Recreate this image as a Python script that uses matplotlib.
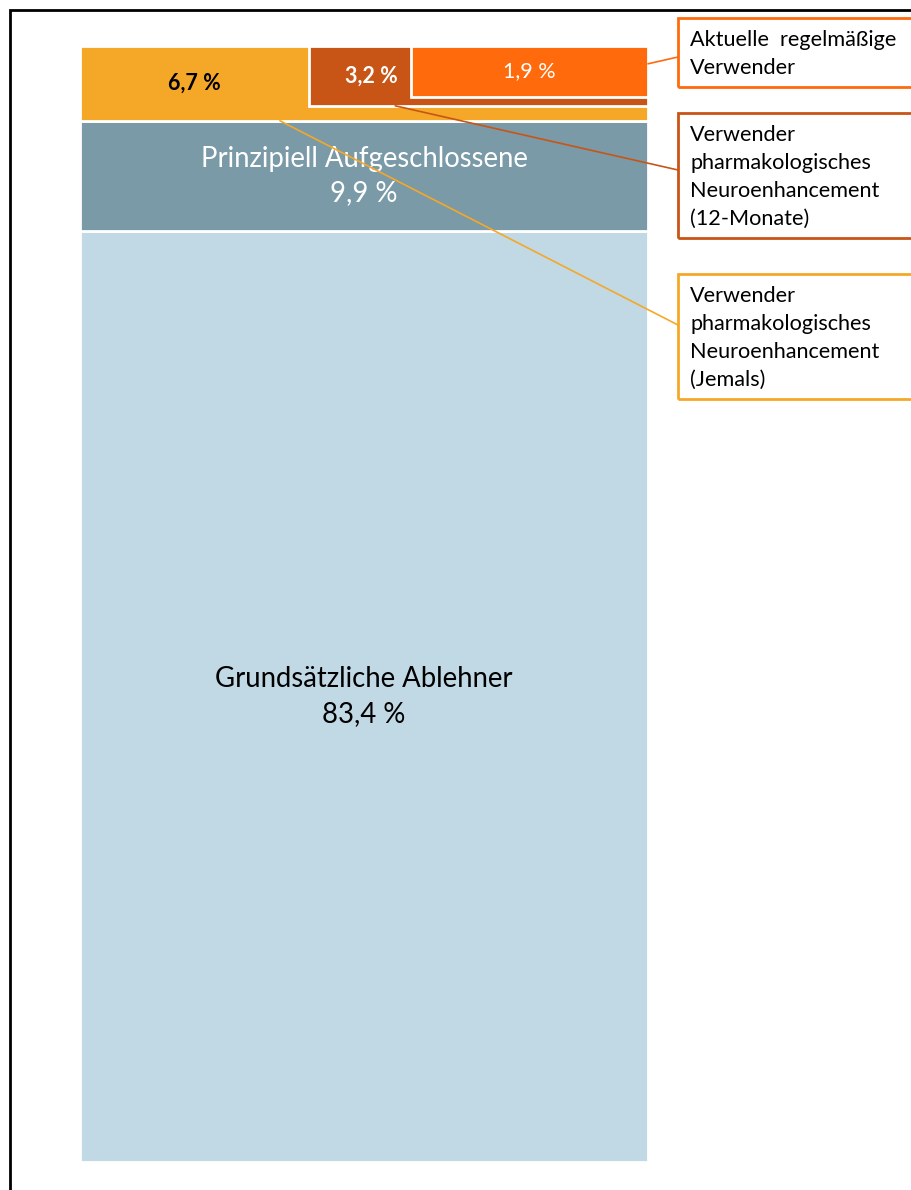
import matplotlib.pyplot as plt
from matplotlib.patches import Rectangle

plt.rcParams['font.family'] = ['Lato', 'DejaVu Sans']

# Hauptsegmente (gestapelt, Summe 100 %)
segmente = ['Grundsätzliche Ablehner', 'Prinzipiell Aufgeschlossene', 'Verwender (Jemals)']
werte = [83.4, 9.9, 6.7]
farben = ['#C0D9E5', '#7A9AA8', '#F5A828']

# verschachtelte Verwendergruppen (Fläche proportional zum Anteil)
verwender = ['12-Monate', 'Aktuelle regelmäßige']
verwender_werte = [3.2, 1.9]
verwender_farben = ['#C85516', '#FF6A0C']
hoehen_anteil = [0.80, 0.68]   # Höhe relativ zum Jemals-Block

labels_text = ['Aktuelle  regelmäßige\nVerwender',
               'Verwender\npharmakologisches\nNeuroenhancement\n(12-Monate)',
               'Verwender\npharmakologisches\nNeuroenhancement\n(Jemals)']

W, H = 911, 1190
fig = plt.figure(figsize=(W / 100, H / 100), dpi=100)

def fy(y):
    # Bildkoordinate (oben=0) -> figure pixels
    return H - y

# Rahmen (rechts und unten abgeschnitten)
fig.patches.append(Rectangle((10, fy(10) - 2000), 2000, 2000, transform=None,
                             fill=False, edgecolor='black', linewidth=2))

ax = fig.add_axes([80 / W, (H - 1162) / H, 568 / W, (1162 - 46) / H])
ax.set_xlim(0, 1)
ax.set_ylim(0, 100)
ax.axis('off')

# gestapelter Balken
unten = 0
for name, v, c in zip(segmente, werte, farben):
    ax.bar(0, v, width=1, bottom=unten, align='edge', color=c,
           edgecolor='white', linewidth=2)
    unten += v

top = sum(werte)
jemals = werte[-1]

# verschachtelte Blöcke oben rechts
bloecke = []
for v, c, hf in zip(verwender_werte, verwender_farben, hoehen_anteil):
    h = jemals * hf
    w = v / (jemals * hf)
    ax.bar(1 - w, h, width=w, bottom=top - h, align='edge', color=c,
           edgecolor='white', linewidth=2)
    bloecke.append((1 - w, w, top - h, h))

def pct(v):
    return f'{v:.1f} %'.replace('.', ',')

# Beschriftungen im Balken
ax.text(0.5, werte[0] / 2, f'{segmente[0]}\n{pct(werte[0])}',
        ha='center', va='center', fontsize=19.8, color='black', linespacing=1.4)
ax.text(0.5, werte[0] + werte[1] / 2, f'{segmente[1]}\n{pct(werte[1])}',
        ha='center', va='center', fontsize=19.8, color='white', linespacing=1.4)
x0_12 = bloecke[0][0]
ax.text(x0_12 / 2, top - jemals / 2, pct(jemals),
        ha='center', va='center', fontsize=15.5, fontweight='bold', color='black')
x0_akt = bloecke[1][0]
ax.text((x0_12 + x0_akt) / 2 + 0.02, bloecke[0][2] + bloecke[0][3] / 2,
        pct(verwender_werte[0]),
        ha='center', va='center', fontsize=15.5, fontweight='bold', color='white')
ax.text(x0_akt + bloecke[1][1] / 2, bloecke[1][2] + bloecke[1][3] / 2,
        pct(verwender_werte[1]),
        ha='center', va='center', fontsize=15.5, color='white')

# Legendenboxen rechts
boxen = [(18, 87, verwender_farben[1]), (113, 238, verwender_farben[0]),
         (274, 399, farben[2])]
for (y1, y2, c), t in zip(boxen, labels_text):
    fig.patches.append(Rectangle((678, fy(y2)), 400, y2 - y1, transform=None,
                                 fill=False, edgecolor=c, linewidth=2))
    fig.text(690 / W, fy(y1 + 12) / H, t, ha='left', va='top', fontsize=15.6,
             color='black', linespacing=1.5)

# Verbindungslinien
anker = [(1.0, bloecke[1][2] + bloecke[1][3] * 0.65, 57, verwender_farben[1]),
         (0.555, bloecke[0][2], 170, verwender_farben[0]),
         (0.352, top - jemals, 325, farben[2])]
for xd, yd, yb, c in anker:
    ax.annotate('', xy=(xd, yd), xycoords='data',
                xytext=(678, fy(yb)), textcoords='figure pixels',
                arrowprops=dict(arrowstyle='-', color=c, linewidth=1.2,
                                shrinkA=0, shrinkB=0),
                annotation_clip=False)

fig.savefig('out.png', dpi=100)
